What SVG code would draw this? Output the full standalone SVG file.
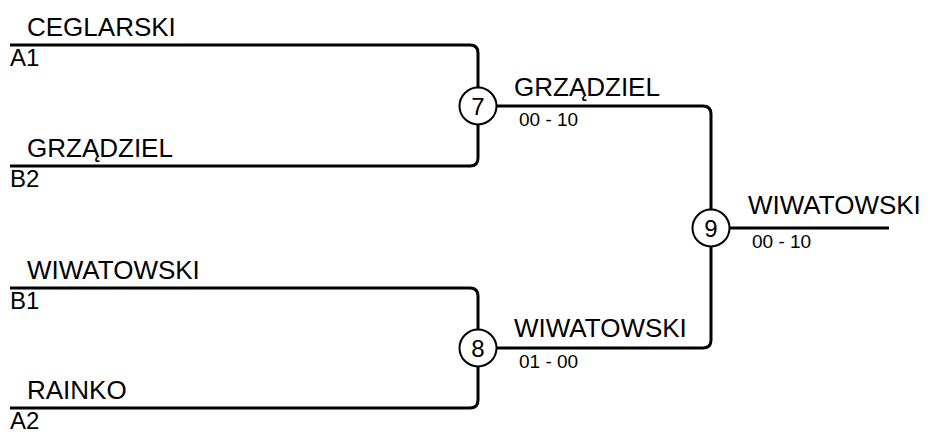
<svg xmlns="http://www.w3.org/2000/svg" width="931" height="434" viewBox="0 0 931 434">
<style>
.ln{fill:none;stroke:#000;stroke-width:3;stroke-linejoin:round}
.c{fill:#fff;stroke:#000;stroke-width:2}
text{font-family:"Liberation Sans",Arial,sans-serif;fill:#000}
.n{font-size:26px}
.s{font-size:24px}
.sc{font-size:19px}
.d{font-size:24px;text-anchor:middle}
</style>
<rect width="931" height="434" fill="#fff"/>
<g id="connectors">
<path class="ln" d="M10,45 H470 Q478,45 478,53 V158 Q478,166 470,166 H10"/>
<path class="ln" d="M10,288 H470 Q478,288 478,296 V400 Q478,408 470,408 H10"/>
<path class="ln" d="M478,106 H703 Q711,106 711,114 V340 Q711,348 703,348 H478"/>
<path class="ln" d="M711,228 H889"/>
</g>
<g id="entry-a1">
<text class="n" x="27" y="36">CEGLARSKI</text>
<text class="s" x="10" y="66">A1</text>
</g>
<g id="entry-b2">
<text class="n" x="27" y="157">GRZĄDZIEL</text>
<text class="s" x="10" y="187">B2</text>
</g>
<g id="entry-b1">
<text class="n" x="27" y="279">WIWATOWSKI</text>
<text class="s" x="10" y="309">B1</text>
</g>
<g id="entry-a2">
<text class="n" x="27" y="399">RAINKO</text>
<text class="s" x="10" y="429">A2</text>
</g>
<g id="match-7">
<circle class="c" cx="478" cy="106" r="18.5"/>
<text class="d" x="478" y="114.5">7</text>
<text class="n" x="514" y="96">GRZĄDZIEL</text>
<text class="sc" x="519" y="126">00 - 10</text>
</g>
<g id="match-8">
<circle class="c" cx="478" cy="348" r="18.5"/>
<text class="d" x="478" y="356.5">8</text>
<text class="n" x="514" y="337">WIWATOWSKI</text>
<text class="sc" x="519" y="368">01 - 00</text>
</g>
<g id="match-9">
<circle class="c" cx="711" cy="228" r="18.5"/>
<text class="d" x="711" y="236.5">9</text>
<text class="n" x="748" y="214">WIWATOWSKI</text>
<text class="sc" x="752" y="248">00 - 10</text>
</g>
</svg>
